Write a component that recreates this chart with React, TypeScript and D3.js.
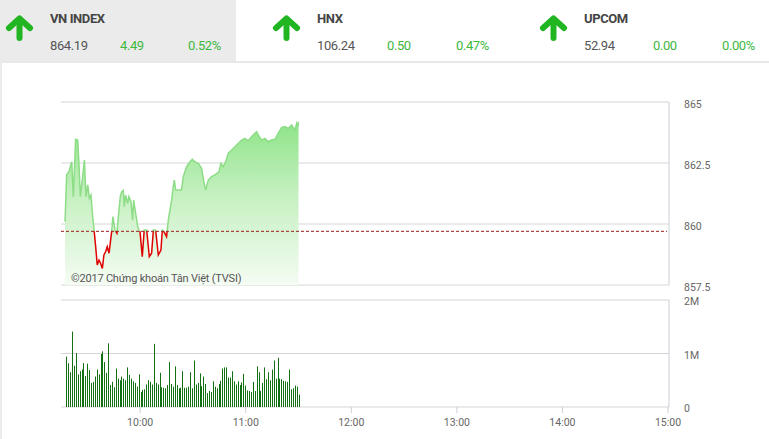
import React from "react";
import * as d3 from "d3";

// ---- header data ----
const indexNames = ["VN INDEX", "HNX", "UPCOM"];
const indexValues = ["864.19", "106.24", "52.94"];
const indexChanges = ["4.49", "0.50", "0.00"];
const indexPercents = ["0.52%", "0.47%", "0.00%"];

// ---- price data (minutes after 09:15) ----
const priceMinutes = [2.3, 3.2, 4.5, 6.1, 7.0, 8.3, 9.5, 10.2, 11.0, 12.1, 13.3, 14.2, 15.2, 16.1, 17.05, 18.0, 18.9, 19.7, 20.6, 21.6, 22.5, 23.5, 24.4, 25.4, 26.3, 27.3, 28.2, 28.8, 29.5, 30.7, 31.8, 32.6, 33.7, 34.5, 35.4, 36.0, 36.7, 37.9, 38.6, 39.8, 40.7, 41.3, 42.0, 43.6, 44.3, 44.9, 46.2, 47.3, 48.7, 50.2, 51.5, 52.5, 53.8, 55.3, 56.8, 57.6, 58.5, 60.0, 61.0, 61.9, 62.9, 63.8, 64.4, 65.2, 66.7, 68.5, 69.5, 71.4, 73.3, 74.6, 76.1, 78.0, 79.9, 81.2, 82.2, 83.7, 85.6, 87.5, 89.8, 90.9, 92.2, 93.6, 95.1, 97.0, 98.9, 100.8, 102.7, 104.5, 106.4, 108.3, 110.2, 111.2, 112.1, 114.0, 115.9, 117.8, 119.7, 121.6, 123.5, 125.4, 127.3, 129.2, 131.1, 133.0, 134.0, 134.6, 135.0];
const priceValues = [860.09, 862.01, 862.14, 862.55, 861.12, 863.47, 863.44, 862.49, 861.12, 861.80, 862.62, 861.12, 861.60, 861.05, 861.19, 860.30, 859.69, 859.07, 858.32, 858.52, 858.39, 858.18, 858.73, 858.87, 859.07, 858.80, 859.34, 859.69, 860.30, 859.75, 859.62, 860.30, 861.12, 861.32, 861.37, 860.71, 861.19, 860.85, 861.12, 860.91, 860.16, 860.98, 860.64, 859.89, 859.75, 859.69, 858.66, 859.75, 859.75, 858.66, 858.80, 859.75, 859.75, 858.73, 858.93, 859.75, 859.69, 859.48, 860.16, 860.57, 860.98, 861.53, 861.80, 861.39, 861.39, 861.39, 861.94, 862.35, 862.55, 862.65, 862.55, 862.49, 862.28, 861.73, 861.39, 861.80, 861.94, 862.01, 862.14, 862.49, 862.35, 862.55, 862.90, 863.03, 863.17, 863.31, 863.44, 863.51, 863.41, 863.58, 863.72, 863.78, 863.65, 863.44, 863.51, 863.37, 863.44, 863.47, 863.72, 863.96, 863.99, 863.92, 864.06, 863.85, 864.13, 863.99, 864.19];
const referenceValue = 859.70;

// ---- volume data (millions), 09:18 -> 11:30 ----
const volumeValues = [0.94, 0.82, 0.65, 1.41, 0.77, 1.01, 0.61, 0.67, 0.70, 0.82, 0.58, 0.81, 0.69, 0.45, 0.47, 0.57, 0.70, 0.61, 0.99, 1.04, 0.84, 0.64, 1.19, 0.41, 0.47, 0.37, 0.72, 0.53, 0.50, 0.57, 0.53, 0.50, 0.74, 0.60, 0.53, 0.48, 0.45, 0.38, 0.61, 0.28, 0.32, 0.33, 0.42, 0.50, 0.47, 0.42, 1.18, 0.45, 0.42, 0.64, 0.37, 0.36, 0.35, 0.41, 0.84, 0.43, 0.38, 0.76, 0.41, 0.35, 0.36, 0.67, 0.36, 0.36, 0.38, 0.65, 0.35, 0.87, 0.42, 0.45, 0.63, 0.39, 0.57, 0.43, 0.26, 0.30, 0.28, 0.48, 0.38, 0.35, 0.43, 0.49, 0.72, 0.74, 0.74, 0.55, 0.55, 0.67, 0.48, 0.42, 0.48, 0.41, 0.46, 0.62, 0.40, 0.31, 0.30, 0.28, 0.47, 0.30, 0.76, 0.65, 0.30, 0.45, 0.74, 0.52, 0.65, 0.50, 0.70, 0.87, 0.53, 0.92, 0.53, 0.52, 0.49, 0.48, 0.47, 0.70, 0.33, 0.35, 0.40, 0.38, 0.23];
const volumeStartMinute = 3;
const volumeEndMinute = 135;

const priceTicks = [857.5, 860, 862.5, 865];
const priceTickLabels = ["857.5", "860", "862.5", "865"];
const volumeTicks = [0, 1e6, 2e6];
const volumeTickLabels = ["0", "1M", "2M"];
const timeTickHours = [10, 11, 12, 13, 14, 15];
const watermark = "©2017 Chứng khoán Tân Việt (TVSI)";

const FONT = "Roboto, 'Noto Sans', sans-serif";
const base = new Date(2017, 0, 1, 9, 15);
const t = (m: number) => new Date(base.getTime() + m * 60000);

function Arrow({ x }: { x: number }) {
  return (
    <g transform={`translate(${x},0)`} stroke="#22b522" strokeWidth={6} strokeLinecap="round" strokeLinejoin="round" fill="none">
      <path d="M3,28 L13.5,18.5 L24,28" />
      <path d="M13.5,20 L13.5,38" />
    </g>
  );
}

export default function App() {
  const W = 769, H = 439;
  const x = d3.scaleTime().domain([t(0), new Date(2017, 0, 1, 15, 0)]).range([61, 668]);
  const yP = d3.scaleLinear().domain([857.5, 865]).range([285, 102]);
  const yV = d3.scaleLinear().domain([0, 2e6]).range([407, 300]);
  const plotL = 61, plotR = 669;

  const pts = priceMinutes.map((m, i) => ({ d: t(m), v: priceValues[i] }));
  const line = d3.line<any>().x((p) => x(p.d)).y((p) => yP(p.v));
  const area = d3.area<any>().x((p) => x(p.d)).y0(yP(857.5)).y1((p) => yP(p.v));
  const refY = yP(referenceValue);

  const nV = volumeValues.length;
  const volTimes = volumeValues.map((_, i) => t(volumeStartMinute + (i * (volumeEndMinute - volumeStartMinute)) / (nV - 1)));

  const cols = [
    { name: 50, val: 50, chg: 120, pct: 188, arrow: 6 },
    { name: 317, val: 317, chg: 387, pct: 456, arrow: 273 },
    { name: 584, val: 584, chg: 653, pct: 722, arrow: 540 },
  ];

  return (
    <div style={{ position: "absolute", left: 0, top: 0 }}>
      <svg width={W} height={H} style={{ display: "block", fontFamily: FONT }}>
        <defs>
          <linearGradient id="areaGrad" gradientUnits="userSpaceOnUse" x1="0" y1="118" x2="0" y2="285">
            <stop offset="0" stopColor="#8be385" />
            <stop offset="0.45" stopColor="#c4f0bf" />
            <stop offset="1" stopColor="#f5fcf4" />
          </linearGradient>
          <clipPath id="aboveRef">
            <rect x={0} y={0} width={W} height={refY} />
          </clipPath>
          <clipPath id="belowRef">
            <rect x={0} y={refY} width={W} height={H - refY} />
          </clipPath>
        </defs>
        <rect x={0} y={0} width={W} height={H} fill="#ffffff" />
        {/* header */}
        <rect x={0} y={0} width={236} height={61} fill="#ebebeb" />
        <rect x={0} y={61} width={W} height={2} fill="#e8e8e8" />
        <rect x={0} y={61} width={2} height={H - 61} fill="#ececec" />
        {cols.map((c, i) => (
          <g key={i}>
            <Arrow x={c.arrow} />
            <text x={c.name} y={23} fontSize={13} fontWeight={700} fill="#444" letterSpacing={-0.4}>{indexNames[i]}</text>
            <text x={c.val} y={50} fontSize={13} fill="#555" letterSpacing={-0.4}>{indexValues[i]}</text>
            <text x={c.chg} y={50} fontSize={13} fill="#3cb83c" letterSpacing={-0.4}>{indexChanges[i]}</text>
            <text x={c.pct} y={50} fontSize={13} fill="#3cb83c" letterSpacing={-0.4}>{indexPercents[i]}</text>
          </g>
        ))}
        {/* price grid */}
        {priceTicks.map((v, i) => (
          <g key={v}>
            <line x1={plotL} x2={plotR} y1={yP(v)} y2={yP(v)} stroke="#d6d6d6" strokeWidth={1} />
            <text x={684} y={yP(v) + 6} fontSize={10.5} fill="#666">{priceTickLabels[i]}</text>
          </g>
        ))}
        <line x1={plotR} x2={plotR} y1={yP(865)} y2={yP(857.5)} stroke="#c9d1d9" />
        {/* area + line */}
        <path d={area(pts) || ""} fill="url(#areaGrad)" />
        <path d={line(pts) || ""} fill="none" stroke="#8ddd87" strokeWidth={1.5} clipPath="url(#aboveRef)" />
        <path d={line(pts) || ""} fill="none" stroke="#e00000" strokeWidth={1.5} clipPath="url(#belowRef)" />
        <line x1={plotL} x2={667} y1={refY} y2={refY} stroke="#9b1c1c" strokeWidth={1} strokeDasharray="3,2" />
        <text x={71} y={282} fontSize={11} fill="#555" letterSpacing={-0.2}>{watermark}</text>
        {/* volume grid */}
        {volumeTicks.map((v, i) => (
          <g key={v}>
            <line x1={plotL} x2={plotR} y1={yV(v)} y2={yV(v)} stroke="#d6d6d6" strokeWidth={1} />
            <text x={684} y={yV(v) + 5} fontSize={10.5} fill="#666">{volumeTickLabels[i]}</text>
          </g>
        ))}
        <line x1={plotR} x2={plotR} y1={yV(2e6)} y2={yV(0)} stroke="#c9d1d9" />
        {volumeValues.map((v, i) => (
          <rect key={i} x={Math.round(x(volTimes[i]))} y={yV(v * 1e6)} width={1} height={yV(0) - yV(v * 1e6)} fill="#137013" />
        ))}
        {/* time axis */}
        {timeTickHours.map((h) => {
          const xx = x(new Date(2017, 0, 1, h, 0));
          return (
            <g key={h}>
              <line x1={xx} x2={xx} y1={407} y2={413} stroke="#c9d1d9" />
              <text x={xx} y={426} fontSize={10.5} fill="#666" textAnchor="middle">{`${h}:00`}</text>
            </g>
          );
        })}
      </svg>
    </div>
  );
}
